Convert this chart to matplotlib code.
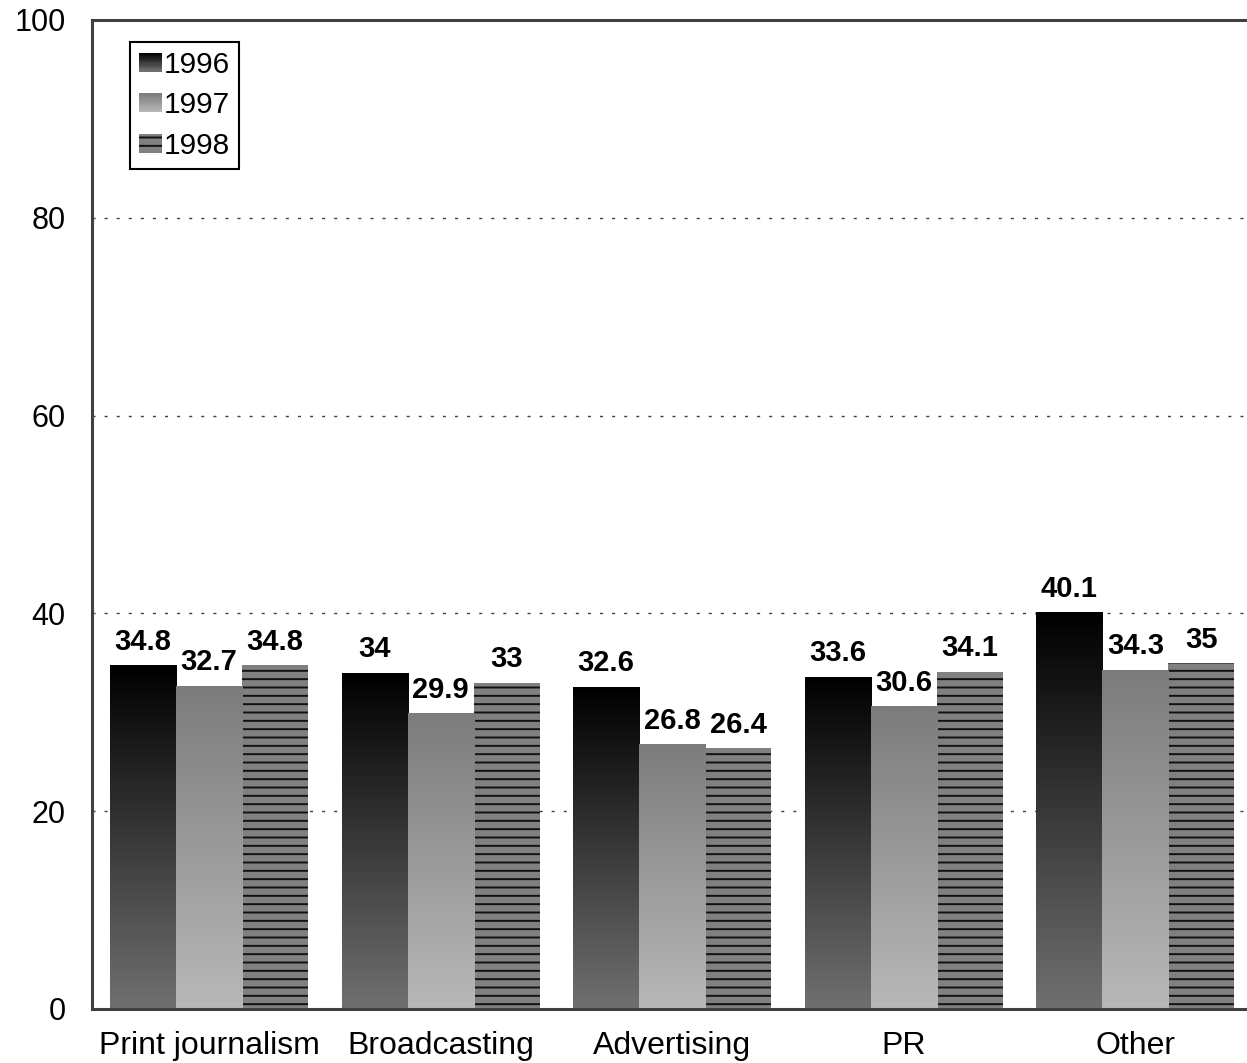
import matplotlib
matplotlib.use('Agg')
import matplotlib.pyplot as plt
import numpy as np
from matplotlib.colors import LinearSegmentedColormap
from matplotlib.patches import Rectangle, Patch
from matplotlib.legend_handler import HandlerBase

plt.rcParams['font.family'] = ['Liberation Sans', 'DejaVu Sans']
plt.rcParams['hatch.linewidth'] = 1.4

# data
categories = ['Print journalism', 'Broadcasting', 'Advertising', 'PR', 'Other']
years = ['1996', '1997', '1998']
vals_1996 = [34.8, 34.0, 32.6, 33.6, 40.1]
vals_1997 = [32.7, 29.9, 26.8, 30.6, 34.3]
vals_1998 = [34.8, 33.0, 26.4, 34.1, 35.0]
value_labels_1996 = ['34.8', '34', '32.6', '33.6', '40.1']
value_labels_1997 = ['32.7', '29.9', '26.8', '30.6', '34.3']
value_labels_1998 = ['34.8', '33', '26.4', '34.1', '35']
yticks = [0, 20, 40, 60, 80, 100]

# gradient colormaps (top -> bottom)
cmap_96 = LinearSegmentedColormap.from_list('g96', ['#000000', '#707070'])
cmap_97 = LinearSegmentedColormap.from_list('g97', ['#7c7c7c', '#b8b8b8'])
grad = np.linspace(0, 1, 256).reshape(-1, 1)


class GradientHandler(HandlerBase):
    def __init__(self, cmap, n=16):
        super().__init__()
        self.cmap = cmap
        self.n = n

    def create_artists(self, legend, orig_handle, xdescent, ydescent,
                       width, height, fontsize, trans):
        arts = []
        for i in range(self.n):
            h = height / self.n
            y = -ydescent + height - (i + 1) * h
            r = Rectangle((-xdescent, y), width, h * 1.02,
                          facecolor=self.cmap(i / (self.n - 1)),
                          edgecolor='none', transform=trans)
            arts.append(r)
        return arts


fig = plt.figure(figsize=(12.47, 10.63), dpi=100)
ax = fig.add_axes([0.0738, 0.0508, 0.9295, 0.9304])

x = np.arange(len(categories))
width = 0.285
offsets = [-width, 0, width]

# gridlines
for yv in yticks[1:-1]:
    ax.axhline(yv, color='#404040', lw=1.0, linestyle=(0, (2.2, 6.5)), zorder=0)

bars96 = ax.bar(x + offsets[0], vals_1996, width, color='none', edgecolor='none', zorder=2)
bars97 = ax.bar(x + offsets[1], vals_1997, width, color='none', edgecolor='none', zorder=2)
bars98 = ax.bar(x + offsets[2], vals_1998, width, color='#808080', edgecolor='#111111',
                linewidth=0, hatch='--', zorder=2)

for bars, cmap in [(bars96, cmap_96), (bars97, cmap_97)]:
    for r in bars:
        x0 = r.get_x()
        h = r.get_height()
        im = ax.imshow(grad, extent=[x0, x0 + r.get_width(), 0, h], cmap=cmap,
                       vmin=0, vmax=1, aspect='auto', origin='upper', zorder=2)
        im.set_clip_path(r)

# value labels
for bars, labels in [(bars96, value_labels_1996), (bars97, value_labels_1997),
                     (bars98, value_labels_1998)]:
    for r, lab in zip(bars, labels):
        ax.annotate(lab, (r.get_x() + r.get_width() / 2, r.get_height()),
                    xytext=(0, 11), textcoords='offset points',
                    ha='center', va='baseline', fontsize=21, fontweight='bold',
                    color='black', zorder=4)

ax.set_xlim(-0.505, 4.5)
ax.set_ylim(0, 100)
ax.set_yticks(yticks)
ax.set_xticks(x)
ax.set_xticklabels(categories)
ax.tick_params(axis='both', length=0, colors='black')
ax.tick_params(axis='y', pad=19, labelsize=22)
ax.tick_params(axis='x', pad=16, labelsize=23)

for side in ['left', 'bottom', 'top', 'right']:
    ax.spines[side].set_color('#404040')
    ax.spines[side].set_linewidth(2.2)
    ax.spines[side].set_zorder(5)

# legend
h96 = Patch(label='1996')
h97 = Patch(label='1997')
h98 = Patch(facecolor='#808080', edgecolor='#111111', linewidth=0, hatch='--', label='1998')
leg = ax.legend(handles=[h96, h97, h98], loc='upper left', bbox_to_anchor=(0.033, 0.978),
                handler_map={h96: GradientHandler(cmap_96), h97: GradientHandler(cmap_97)},
                fontsize=21.5, frameon=True, fancybox=False, framealpha=1,
                edgecolor='black', handlelength=0.75, handleheight=0.6,
                handletextpad=0.06, labelspacing=0.42, borderpad=0.3,
                borderaxespad=0)
leg.get_frame().set_linewidth(1.5)

fig.savefig('out.png', dpi=100)
